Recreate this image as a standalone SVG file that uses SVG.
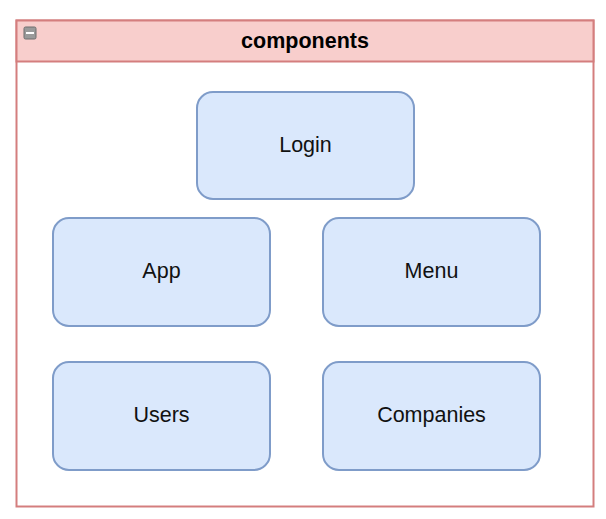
<svg xmlns="http://www.w3.org/2000/svg" width="606" height="519" viewBox="0 0 606 519">
<style>
.node rect{fill:#dae8fc;stroke:#7f9cc9;stroke-width:2}
.lbl{font-family:"Liberation Sans",Arial,sans-serif;font-size:21.5px;fill:#111;text-anchor:middle;dominant-baseline:central}
</style>
<rect width="606" height="519" fill="#fff"/>
<g id="components">
<rect x="16.5" y="20.5" width="577" height="486" fill="#fff" stroke="#d47e7e" stroke-width="2"/>
<rect x="16.5" y="20.5" width="577" height="41" fill="#f8cecc" stroke="#d47e7e" stroke-width="2"/>
<rect x="24" y="27" width="12" height="12" rx="1.5" fill="#9a9a9a" stroke="#6f6f6f" stroke-width="1"/>
<line x1="26" y1="33" x2="34" y2="33" stroke="#fff" stroke-width="2"/>
<text x="305" y="41" class="lbl" style="font-weight:bold;fill:#000">components</text>
</g>
<g id="connectors"></g>
<g id="login" class="node"><rect x="197" y="92" width="217" height="107" rx="16"/><text x="305.5" y="144.5" class="lbl">Login</text></g>
<g id="app" class="node"><rect x="53" y="218" width="217" height="108" rx="16"/><text x="161.5" y="271" class="lbl">App</text></g>
<g id="menu" class="node"><rect x="323" y="218" width="217" height="108" rx="16"/><text x="431.5" y="271" class="lbl">Menu</text></g>
<g id="users" class="node"><rect x="53" y="362" width="217" height="108" rx="16"/><text x="161.5" y="415" class="lbl">Users</text></g>
<g id="companies" class="node"><rect x="323" y="362" width="217" height="108" rx="16"/><text x="431.5" y="415" class="lbl">Companies</text></g>
</svg>
